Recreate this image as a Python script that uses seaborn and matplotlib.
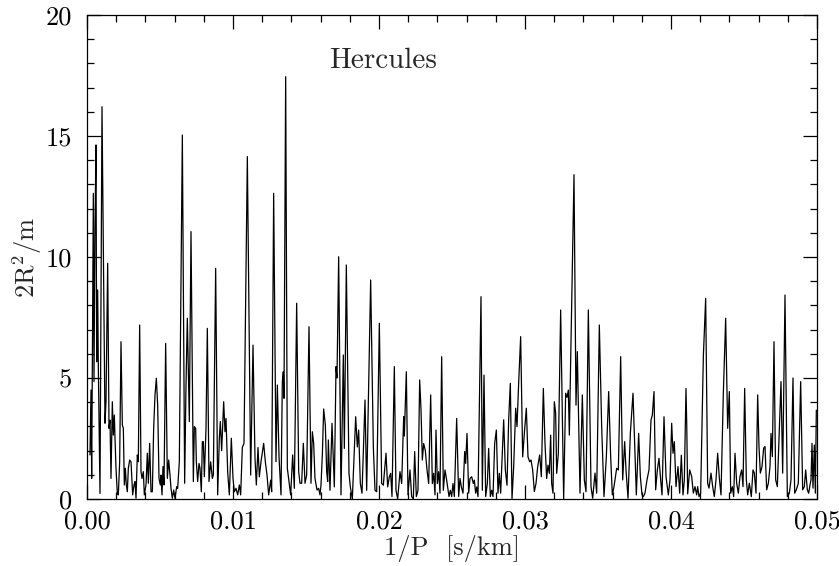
import numpy as np
import pandas as pd
import matplotlib
matplotlib.use("Agg")
import matplotlib.pyplot as plt
from matplotlib.ticker import MultipleLocator, FormatStrFormatter
import seaborn as sns

# 1/P in units of 1e-3 s/km, and power 2R^2/m
freq_milli = [
    0.205, 0.274, 0.320, 0.434, 0.479, 0.548, 0.616, 0.662, 0.731, 0.776, 0.890,
    1.027, 1.233, 1.301, 1.416, 1.507, 1.575, 1.644, 1.735, 1.804, 1.872, 1.918,
    1.986, 2.078, 2.146, 2.237, 2.329, 2.420, 2.489, 2.557, 2.626, 2.694, 2.763,
    2.831, 2.922, 3.014, 3.128, 3.219, 3.288, 3.356, 3.447, 3.516, 3.607, 3.699,
    3.767, 3.858, 3.927, 4.041, 4.132, 4.201, 4.292, 4.384, 4.475, 4.566, 4.658,
    4.749, 4.840, 4.932, 5.023, 5.068, 5.137, 5.205, 5.274, 5.388, 5.502, 5.594,
    5.685, 5.753, 5.845, 5.936, 6.027, 6.142, 6.210, 6.324, 6.530, 6.689, 6.781,
    6.872, 7.009, 7.123, 7.283, 7.352, 7.443, 7.489, 7.580, 7.671, 7.740, 7.831,
    7.900, 7.968, 8.037, 8.151, 8.242, 8.356,
    8.470, 8.584, 8.653, 8.813, 8.950, 9.064, 9.132, 9.224, 9.361, 9.452, 9.521,
    9.635, 9.749, 9.886, 10.000, 10.091, 10.205, 10.320, 10.434, 10.525, 10.639,
    10.753, 10.982, 11.210, 11.370, 11.507, 11.598, 11.712, 11.804, 11.918,
    12.100, 12.215, 12.329, 12.443, 12.580, 12.648, 12.785, 12.945, 13.037,
    13.151, 13.288, 13.379, 13.447, 13.493, 13.607, 13.721, 13.836, 13.950,
    14.087, 14.201, 14.361, 14.498, 14.589, 14.703, 14.817, 14.932, 15.046,
    15.205, 15.342, 15.434, 15.525, 15.616, 15.753, 15.868, 15.959, 16.027,
    16.119, 16.210, 16.324, 16.416, 16.484,
    16.530, 16.644, 16.781, 16.941, 17.055, 17.123, 17.237, 17.397, 17.557,
    17.626, 17.763, 17.945, 18.037, 18.174, 18.402, 18.516, 18.607, 18.721,
    18.836, 19.041, 19.155, 19.429, 19.612, 19.726, 19.840, 20.023, 20.183,
    20.297, 20.479, 20.594, 20.708, 20.799, 20.890, 21.050, 21.164, 21.279,
    21.438, 21.553, 21.690, 21.735, 21.872, 21.986, 22.123, 22.237, 22.352,
    22.443, 22.557, 22.671, 22.785, 22.877, 22.968, 23.059, 23.174, 23.288,
    23.402, 23.539, 23.653, 23.744, 23.836, 23.904, 23.995, 24.087, 24.178,
    24.292, 24.406, 24.521, 24.635,
    24.795, 24.886, 24.977, 25.068, 25.160, 25.320, 25.457, 25.548, 25.639,
    25.753, 25.868, 25.936, 26.027, 26.142, 26.233, 26.347, 26.461, 26.530,
    26.621, 26.690, 26.781, 26.986, 27.078, 27.192, 27.306, 27.420, 27.511,
    27.626, 27.717, 27.808, 27.922, 28.037, 28.151, 28.242, 28.333, 28.425,
    28.539, 28.653, 28.767, 28.881, 28.995, 29.110, 29.224, 29.361, 29.452,
    29.566, 29.703, 29.840, 29.954, 30.091, 30.205, 30.320, 30.411, 30.525,
    30.639, 30.753, 30.868, 31.005, 31.119, 31.256, 31.370, 31.484, 31.575,
    31.667, 31.758, 31.826, 31.918, 32.009, 32.100, 32.169, 32.283, 32.443,
    32.648, 32.785, 32.877, 32.968, 33.037,
    33.356, 33.493, 33.584, 33.767, 33.927, 34.064, 34.178, 34.338, 34.521,
    34.635, 34.795, 34.909, 35.091, 35.251, 35.411, 35.571, 35.731, 35.868,
    35.982, 36.096, 36.279, 36.393, 36.553, 36.690, 36.826, 36.918, 37.055,
    37.215, 37.397, 37.534, 37.626, 37.785, 37.900, 38.014, 38.105, 38.219,
    38.356, 38.493, 38.630, 38.721, 38.836, 38.950, 39.064, 39.178, 39.292,
    39.384, 39.521, 39.658, 39.817, 39.932, 40.046, 40.137, 40.228, 40.342,
    40.479, 40.594, 40.708, 40.822, 40.913, 41.027, 41.080,
    41.142, 41.279, 41.416, 41.530, 41.644, 41.758, 41.826, 41.918, 42.032,
    42.215, 42.374, 42.511, 42.603, 42.740, 42.854, 42.968, 43.082, 43.196,
    43.311, 43.425, 43.584, 43.744, 43.881, 43.995, 44.087, 44.201, 44.292,
    44.384, 44.498, 44.612, 44.726, 44.840, 44.932, 45.046, 45.160, 45.251,
    45.365, 45.502, 45.616, 45.708, 45.822, 45.936, 46.027, 46.119, 46.233,
    46.347, 46.438, 46.553, 46.667, 46.781, 46.849, 46.941, 47.055, 47.169,
    47.283, 47.397, 47.534, 47.648, 47.808, 47.968, 48.105, 48.219, 48.356,
    48.470, 48.584, 48.721, 48.881, 49.018, 49.132, 49.224, 49.338, 49.429,
    49.521, 49.589, 49.658, 49.726, 49.817, 49.886, 49.954,
]
power = [
    1.82, 4.50, 0.85, 12.63, 4.85, 11.3, 14.63, 5.67, 8.64, 5.5, 0.23,
    16.21, 3.13, 4.02, 9.74, 2.92, 3.26, 0.85, 4.02, 2.64, 3.47, 2.51,
    1.27, 0.23, 0.17, 1.54, 6.50, 3.06, 2.92, 0.58, 1.27, 0.58, 0.30,
    1.27, 1.61, 1.54, 0.17, 0.58, 0.72, 0.03, 1.82, 1.54, 7.19, 1.13,
    0.85, 1.13, 0.17, 0.58, 1.89, 0.65, 2.30, 0.30, 0.30, 2.92, 4.30,
    4.99, 3.88, 0.85, 0.58, 0.99, 0.17, 1.34, 0.58, 6.43, 0.85, 1.61,
    0.99, 0.44, 0.03, 0.37, 0.03, 0.51, 0.44, 1.54, 15.04, 0.65, 4.71,
    7.47, 3.20, 11.05, 0.72, 2.99, 2.92, 1.54, 0.72, 1.47, 1.27, 0.30,
    2.37, 2.37, 0.92, 2.92, 7.05, 0.72,
    1.54, 0.85, 0.99, 9.53, 0.17, 2.51, 3.20, 2.00, 4.02, 2.78, 3.33,
    1.13, 0.17, 2.51, 0.85, 0.30, 0.44, 0.17, 0.58, 0.17, 2.13,
    2.30, 14.15, 0.99, 6.36, 1.68, 0.58, 2.13, 0.92, 1.54,
    2.30, 1.54, 0.99, 0.17, 0.78, 0.30, 12.63, 1.54, 4.71,
    1.75, 0.17, 4.85, 5.26, 4.16, 17.45, 1.27, 0.72, 0.17,
    1.82, 0.44, 8.09, 1.13, 0.65, 0.65, 2.30, 0.65, 0.99,
    7.12, 0.65, 2.78, 2.30, 0.85, 0.37, 0.44, 0.17, 0.58,
    1.82, 3.72, 3.06, 1.13, 0.72,
    2.44, 0.36, 3.13, 0.50, 5.47, 5.00, 10.01, 0.17, 5.95,
    2.09, 9.67, 1.06, 0.50, 0.00, 3.40, 2.15, 2.85, 0.64,
    0.24, 4.09, 0.36, 9.05, 2.15, 0.36, 0.30, 7.26, 0.64,
    0.57, 1.89, 0.50, 0.92, 1.06, 0.10, 5.47, 0.36, 0.00,
    1.13, 0.64, 3.40, 2.60, 5.26, 0.17, 1.20, 0.10, 0.00,
    1.96, 0.10, 0.36, 4.92, 3.70, 1.61, 2.29, 2.00, 1.20,
    0.64, 4.30, 0.64, 1.06, 0.17, 2.85, 0.64, 1.13, 0.24,
    5.88, 0.36, 1.20, 0.78,
    0.10, 0.36, 0.10, 0.64, 0.10, 3.33, 0.10, 0.85, 0.50,
    0.24, 1.96, 1.47, 2.71, 0.24, 0.85, 0.92, 0.64, 0.78,
    0.24, 0.50, 0.10, 8.36, 0.36, 5.12, 0.10, 0.64, 2.09,
    0.10, 0.36, 0.10, 2.29, 2.85, 0.24, 1.06, 0.24, 1.61,
    3.27, 1.20, 0.57, 3.27, 4.78, 0.00, 1.33, 3.75, 2.99,
    4.80, 6.71, 1.74, 2.71, 3.75, 1.74, 1.54, 1.61, 1.20,
    0.31, 0.64, 1.33, 1.82, 0.92, 4.57, 2.29, 0.85, 1.40,
    1.06, 2.64, 0.64, 0.24, 4.02, 3.54, 1.06, 1.89, 7.81,
    0.00, 4.37, 4.20, 4.50, 2.64,
    13.40, 3.88, 6.09, 0.24, 4.30, 0.79, 0.30, 7.81, 0.51,
    0.03, 1.07, 0.24, 7.19, 3.00, 0.10, 1.74, 4.44, 1.74,
    0.17, 0.51, 1.27, 1.20, 5.88, 0.79, 2.37, 1.20, 0.03,
    2.71, 4.37, 1.89, 0.17, 2.71, 0.93, 0.17, 0.10, 0.24,
    0.79, 1.20, 3.26, 3.47, 4.44, 0.38, 1.20, 1.68, 0.79,
    0.17, 3.40, 0.93, 0.17, 0.79, 3.13, 1.89, 2.37, 0.51,
    1.34, 0.24, 1.81, 0.17, 0.79, 4.57, 3.00,
    0.21, 1.20, 0.93, 0.24, 0.51, 0.17, 0.51, 0.10, 0.24,
    5.88, 8.29, 0.65, 0.45, 1.07, 0.51, 0.10, 0.79, 1.89,
    0.86, 0.17, 4.37, 7.47, 2.92, 4.44, 0.24, 0.51, 0.10,
    1.89, 0.65, 0.24, 0.93, 1.20, 0.51, 4.57, 0.79, 0.17,
    0.65, 0.10, 1.20, 1.07, 0.24, 4.30, 2.17, 1.07, 1.34,
    2.10, 2.17, 0.38, 0.65, 1.34, 2.71, 1.75, 6.50, 0.79,
    0.51, 2.44, 4.85, 1.07, 8.43, 0.10, 0.24, 0.79, 5.00,
    0.24, 0.38, 0.65, 4.85, 0.38, 0.51, 1.20, 0.38, 0.24,
    0.58, 0.79, 2.30, 0.45, 2.23, 0.24, 3.67,
]
x_ticks = [0.00, 0.01, 0.02, 0.03, 0.04, 0.05]
y_ticks = [0, 5, 10, 15, 20]
label_text = "Hercules"

df = pd.DataFrame({"freq": np.array(freq_milli) * 1e-3, "power": power})

sns.set_style("ticks")
plt.rcParams["font.family"] = ["cmr10", "DejaVu Serif"]
plt.rcParams["mathtext.fontset"] = "cm"
plt.rcParams["axes.formatter.use_mathtext"] = True

fig = plt.figure(figsize=(8.39, 5.66), dpi=100)
ax = fig.add_axes([87 / 839, 67 / 566, 730 / 839, 484 / 566])

sns.lineplot(data=df, x="freq", y="power", color="black", linewidth=0.9,
             estimator=None, sort=False, ax=ax)

ax.set_xlim(0, 0.05)
ax.set_ylim(0, 20)
ax.set_xticks(x_ticks)
ax.set_yticks(y_ticks)
ax.xaxis.set_major_formatter(FormatStrFormatter("%.2f"))
ax.yaxis.set_major_formatter(FormatStrFormatter("%d"))
ax.xaxis.set_minor_locator(MultipleLocator(0.002))
ax.yaxis.set_minor_locator(MultipleLocator(1))
ax.tick_params(which="both", direction="in", top=True, right=True,
               colors="black", width=0.9, labelsize=19)
ax.tick_params(which="major", length=10)
ax.tick_params(which="minor", length=5)
ax.tick_params(axis="x", which="major", pad=8)
ax.tick_params(axis="y", which="major", pad=11)
for s in ax.spines.values():
    s.set_color("black")
    s.set_linewidth(0.9)

ax.set_xlabel("1/P  [s/km]", fontsize=19, labelpad=1)
ax.set_ylabel(r"$\mathrm{2R^2/m}$", fontsize=19, labelpad=1)
ax.text(0.0203, 18.1, label_text, fontsize=21, ha="center", va="center")

fig.savefig("out.png", dpi=100)
